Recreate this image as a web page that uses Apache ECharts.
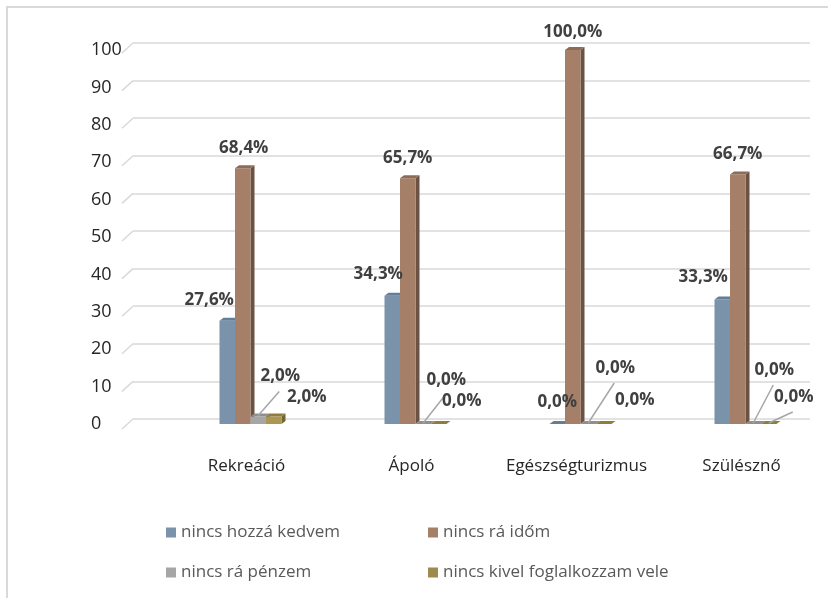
<!DOCTYPE html>
<html>
<head>
<meta charset="utf-8">
<script src="https://cdn.jsdelivr.net/npm/echarts@6/dist/echarts.min.js"></script>
<style>
  html, body { margin: 0; padding: 0; background: #ffffff; }
  #chart { width: 828px; height: 598px; }
</style>
</head>
<body>
<div id="chart"></div>
<script>
// Survey answers per course, in percent
const categories = ['Rekreáció', 'Ápoló', 'Egészségturizmus', 'Szülésznő'];
const seriesNames = ['nincs hozzá kedvem', 'nincs rá időm', 'nincs rá pénzem', 'nincs kivel foglalkozzam vele'];
const hozzaKedvem = [27.6, 34.3, 0.0, 33.3];
const raIdom = [68.4, 65.7, 100.0, 66.7];
const raPenzem = [2.0, 0.0, 0.0, 0.0];
const nincsKivel = [2.0, 0.0, 0.0, 0.0];
const yTicks = [0, 10, 20, 30, 40, 50, 60, 70, 80, 90, 100];

const seriesValues = [hozzaKedvem, raIdom, raPenzem, nincsKivel];

// Face colours of the pseudo-3D columns: front, top, side
const palette = [
  { front: '#7a93ab', top: '#637f98', side: '#566d84', legend: '#7a93ab' },
  { front: '#a67f69', top: '#8e6b57', side: '#6c5243', legend: '#a67f69' },
  { front: '#a6a6a6', top: '#8f8f8f', side: '#7a7a7a', legend: '#a6a6a6' },
  { front: '#ad9552', top: '#917c3e', side: '#746430', legend: '#9e8a4c' }
];

// Data label placement relative to the column's front-top centre (px)
const labelShift = [
  [[-18, -21], [-14, -22], [0, -22], [-19, -22]],
  [[1, -20], [0, -20], [0, -18], [0, -20]],
  [[22, -40], [23, -44], [27, -56], [21, -54]],
  [[33, -19], [23, -23], [31, -24], [25, -27]]
];
const leaderLine = [
  [false, false, false, false],
  [false, false, false, false],
  [true, true, true, true],
  [false, false, false, true]
];

const BAR_W = 15.5;   // front face width
const DEPTH_X = 4;    // 3D depth offset
const DEPTH_Y = 3;

function fmt(v) {
  return v.toFixed(1).replace('.', ',') + '%';
}

function renderColumn(params, api) {
  const k = params.seriesIndex;
  const ci = api.value(0);
  const v = api.value(1);
  const base = api.coord([ci, 0]);
  const top = api.coord([ci, v]);
  const x0 = base[0] - 2 * BAR_W + k * BAR_W;
  const x1 = x0 + BAR_W;
  const yb = base[1];
  const yt = top[1];
  const c = palette[k];
  const children = [
    { type: 'polygon', shape: { points: [[x1, yt], [x1 + DEPTH_X, yt - DEPTH_Y], [x1 + DEPTH_X, yb - DEPTH_Y], [x1, yb]] }, style: { fill: c.side } },
    { type: 'rect', shape: { x: x0, y: yt, width: BAR_W, height: yb - yt }, style: { fill: c.front } },
    { type: 'polygon', shape: { points: [[x0, yt], [x0 + DEPTH_X, yt - DEPTH_Y], [x1 + DEPTH_X, yt - DEPTH_Y], [x1, yt]] }, style: { fill: c.top } }
  ];
  const sh = labelShift[k][ci];
  const cx = x0 + BAR_W / 2 + sh[0];
  const cy = yt + sh[1];
  if (leaderLine[k][ci]) {
    children.push({
      type: 'line',
      shape: { x1: x0 + BAR_W / 2, y1: yt - 1, x2: cx - 1, y2: cy + 15 },
      style: { stroke: '#a6a6a6', lineWidth: 1.5 },
      z2: 90
    });
  }
  children.push({
    type: 'text',
    z2: 100,
    style: {
      x: cx, y: cy, text: fmt(v), align: 'center', verticalAlign: 'middle',
      fill: '#404040', font: 'bold 17px "Open Sans", sans-serif'
    }
  });
  return { type: 'group', children: children };
}

// Short slanted stubs at the left end of each back-wall gridline
function renderStub(params, api) {
  const p = api.coord([0, api.value(1)]);
  return {
    type: 'line',
    shape: { x1: p[0] - 11, y1: p[1] + 10, x2: p[0], y2: p[1] },
    style: { stroke: '#d9d9d9', lineWidth: 1.5 }
  };
}

const columnSeries = seriesNames.map((name, k) => ({
  name: name,
  type: 'custom',
  coordinateSystem: 'cartesian2d',
  xAxisIndex: 0,
  yAxisIndex: 0,
  itemStyle: { color: palette[k].legend },
  renderItem: renderColumn,
  data: categories.map((c, i) => [i, seriesValues[k][i]]),
  z: 5
}));

const legendPos = [
  { left: 166, top: 524 },
  { left: 428, top: 524 },
  { left: 166, top: 564 },
  { left: 428, top: 564 }
];

const chart = echarts.init(document.getElementById('chart'), null, { renderer: 'canvas' });
chart.setOption({
  backgroundColor: '#ffffff',
  animation: false,
  textStyle: { fontFamily: '"Open Sans", sans-serif' },
  graphic: [{
    type: 'rect',
    shape: { x: 7, y: 7, width: 900, height: 700 },
    style: { fill: 'none', stroke: '#d9d9d9', lineWidth: 2 },
    silent: true
  }],
  legend: seriesNames.map((name, k) => ({
    data: [{ name: name, itemStyle: { color: palette[k].legend } }],
    left: legendPos[k].left,
    top: legendPos[k].top,
    padding: 0,
    icon: 'rect',
    itemWidth: 10,
    itemHeight: 10,
    itemGap: 0,
    textStyle: { color: '#595959', fontSize: 17, fontFamily: '"Open Sans", sans-serif' }
  })),
  grid: [
    { left: 168, width: 675, top: 50, height: 374 },
    { left: 133, right: 18, top: 43, height: 376 }
  ],
  xAxis: [
    {
      gridIndex: 0,
      type: 'category',
      data: categories,
      axisLine: { show: false },
      axisTick: { show: false },
      axisLabel: {
        interval: 0,
        margin: 34,
        color: '#262626',
        fontSize: 17,
        padding: [0, 8, 0, 0],
        fontFamily: '"Open Sans", sans-serif'
      }
    },
    { gridIndex: 1, type: 'value', min: 0, max: 1, show: false }
  ],
  yAxis: [
    {
      gridIndex: 0,
      type: 'value',
      min: 0,
      max: 100,
      interval: 10,
      axisLine: { show: false },
      axisTick: { show: false },
      splitLine: { show: false },
      axisLabel: {
        align: 'left',
        margin: 77,
        padding: [8, 0, 0, 0],
        color: '#262626',
        fontSize: 18,
        fontFamily: '"Open Sans", sans-serif'
      }
    },
    {
      gridIndex: 1,
      type: 'value',
      min: 0,
      max: 100,
      interval: 10,
      axisLine: { show: false },
      axisTick: { show: false },
      axisLabel: { show: false },
      splitLine: { lineStyle: { color: '#d9d9d9', width: 1.5 } }
    }
  ],
  series: columnSeries.concat([{
    type: 'custom',
    coordinateSystem: 'cartesian2d',
    xAxisIndex: 1,
    yAxisIndex: 1,
    silent: true,
    renderItem: renderStub,
    data: yTicks.map(v => [0, v]),
    z: 1
  }])
});
</script>
</body>
</html>
